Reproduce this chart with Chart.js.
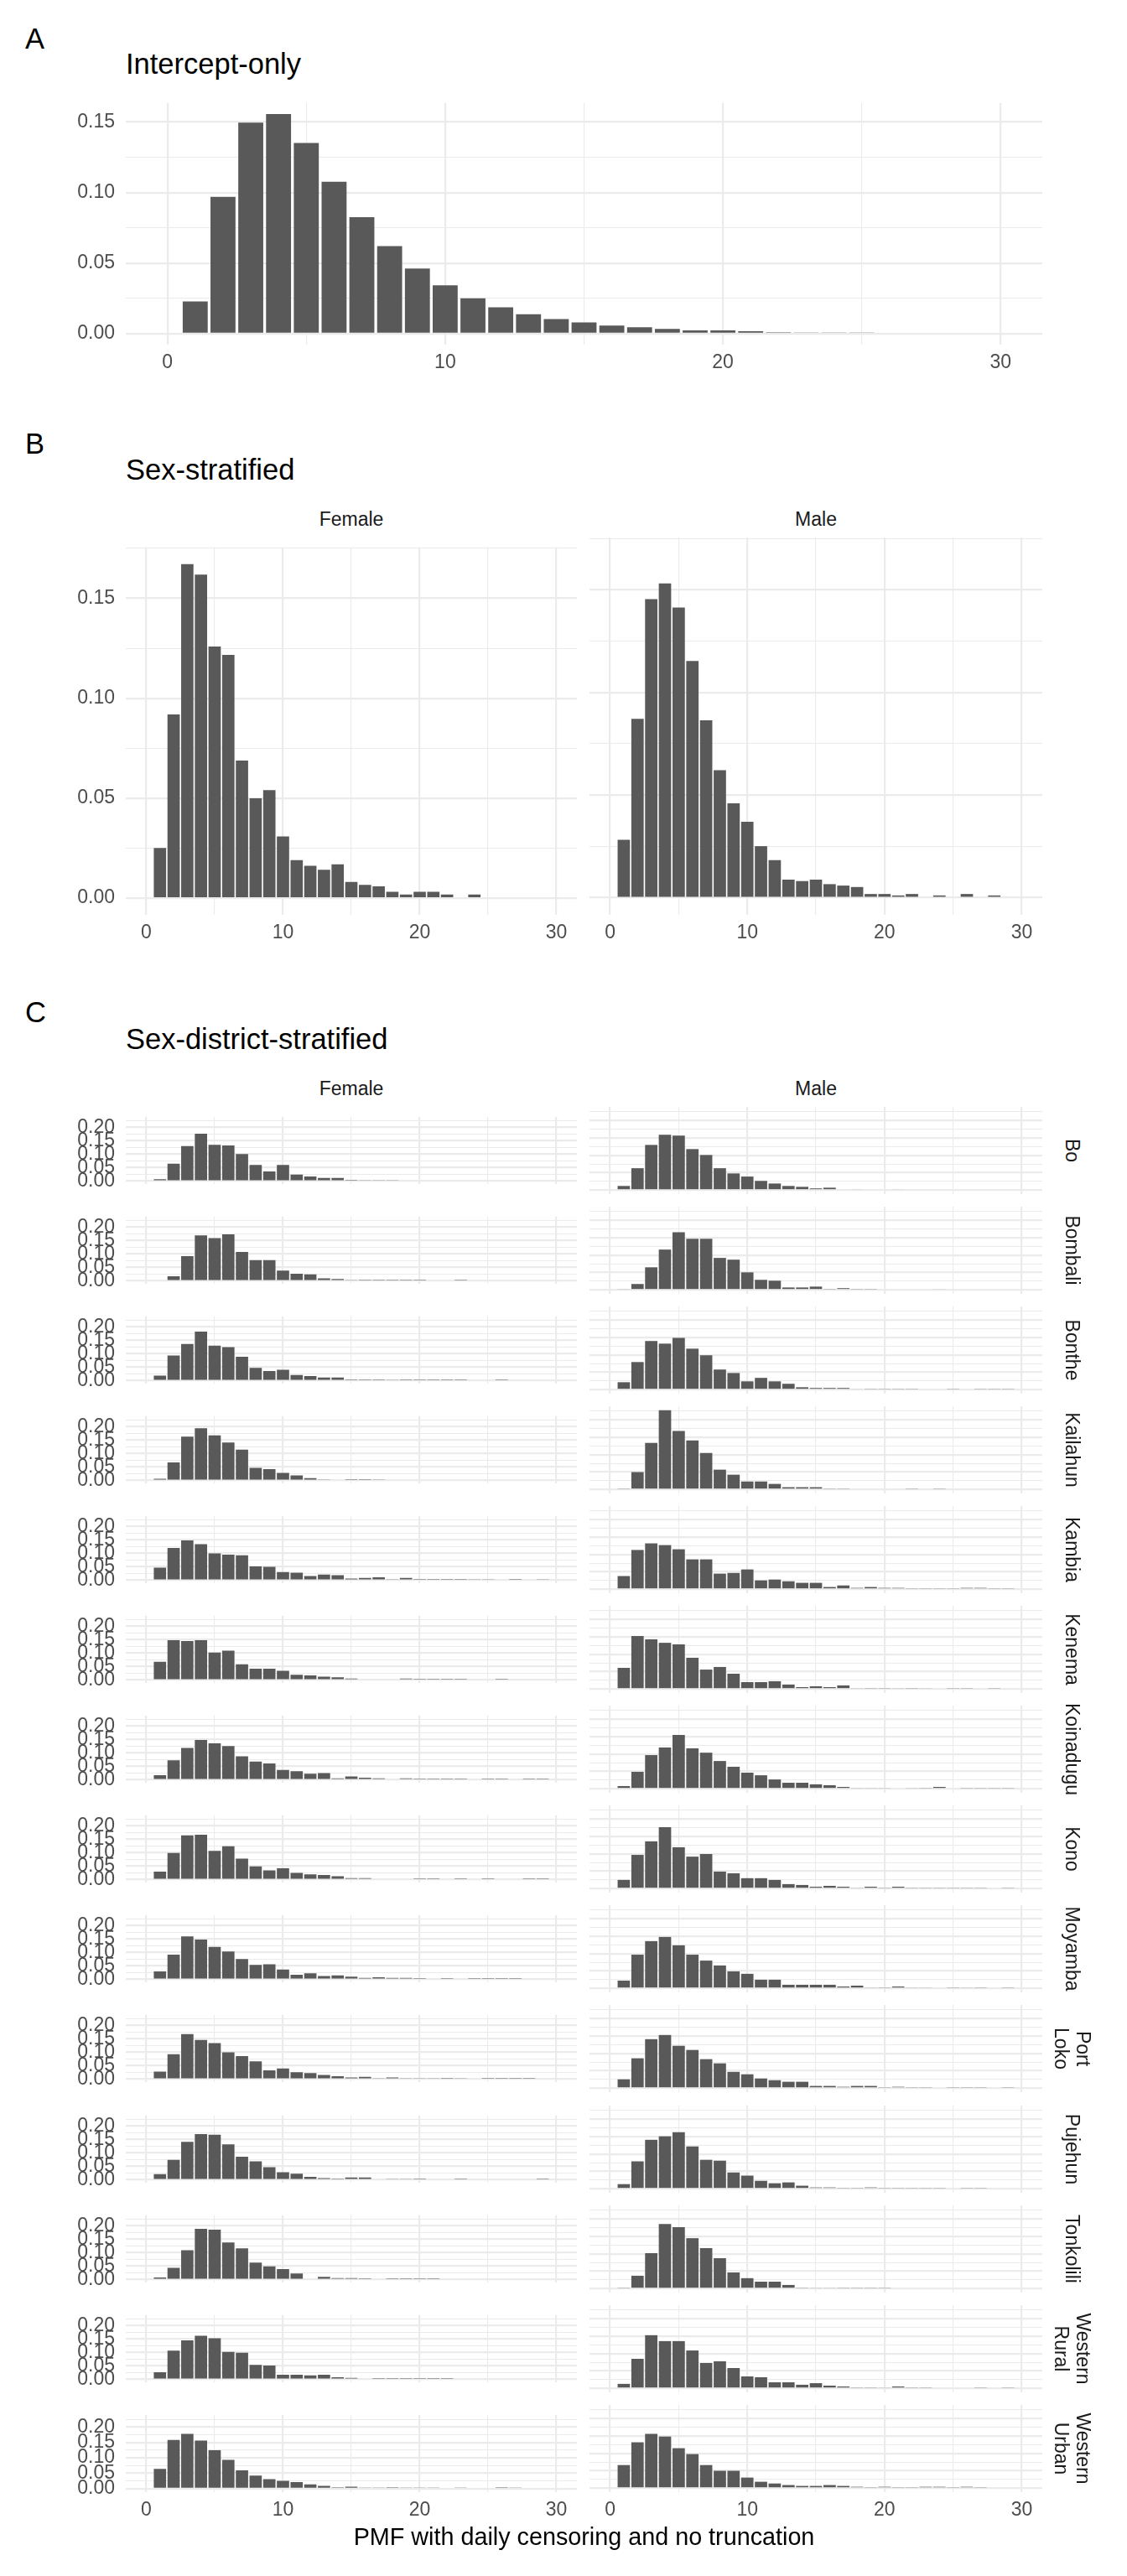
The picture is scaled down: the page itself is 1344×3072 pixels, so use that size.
<!DOCTYPE html>
<html>
<head>
<meta charset="utf-8">
<script src="https://cdn.jsdelivr.net/npm/chart.js@4.4.1/dist/chart.umd.min.js"></script>
<style>
  body { margin: 0; background: #fff; }
  #page { position: relative; width: 1344px; height: 3072px; overflow: hidden; font-family: "Liberation Sans", Arial, sans-serif; }
  canvas { position: absolute; }
  .txt { position: absolute; white-space: nowrap; line-height: 1; }
  .strip { position: absolute; white-space: nowrap; text-align: center; font-size: 23px; line-height: 26px; color: #1A1A1A; transform: translate(-50%, -50%) rotate(90deg); }
</style>
</head>
<body>
<div id="page"></div>
<script>
// delay in days (x)
const days = [1,2,3,4,5,6,7,8,9,10,11,12,13,14,15,16,17,18,19,20,21,22,23,24,25,26,27,28,29,30];
const xLimits = [0, 30];

// A: intercept-only
const interceptOnly = [0.0228,0.0969,0.1496,0.1557,0.1352,0.1077,0.0826,0.0621,0.0461,0.0343,0.0251,0.0187,0.0137,0.0103,0.0080,0.0057,0.0046,0.0034,0.0023,0.0023,0.0017,0.0010,0.0005,0.0005,0.0005,0,0,0,0,0];

// B: sex-stratified
const sexFemale = [0.0251,0.0919,0.1671,0.1618,0.1259,0.1217,0.0688,0.0499,0.0540,0.0309,0.0190,0.0162,0.0142,0.0169,0.0081,0.0066,0.0059,0.0032,0.0018,0.0032,0.0032,0.0018,0,0.0018,0,0,0,0,0,0];
const sexMale = [0.0282,0.0871,0.1454,0.1531,0.1413,0.1153,0.0864,0.0621,0.0460,0.0370,0.0251,0.0183,0.0088,0.0081,0.0088,0.0066,0.0059,0.0052,0.0018,0.0018,0.0011,0.0018,0,0.0011,0,0.0018,0,0.0011,0,0];

// C: sex-district-stratified
const districts = ['Bo','Bombali','Bonthe','Kailahun','Kambia','Kenema','Koinadugu','Kono','Moyamba','Port Loko','Pujehun','Tonkolili','Western Rural','Western Urban'];
const sexes = ['Female', 'Male'];

const boFemale = [0.007,0.065,0.130,0.176,0.135,0.1325,0.101,0.060,0.036,0.060,0.024,0.017,0.012,0.012,0.005,0.0025,0.0025,0.0025,0,0,0,0,0,0,0,0,0,0,0,0];
const boMale = [0.012,0.063,0.130,0.159,0.157,0.118,0.101,0.063,0.048,0.039,0.0265,0.019,0.012,0.0095,0.005,0.007,0,0.0025,0,0,0.0025,0,0,0,0,0,0,0,0,0];
const bombaliFemale = [0,0.017,0.092,0.169,0.159,0.1735,0.108,0.077,0.077,0.0385,0.0265,0.024,0.0095,0.007,0.0025,0.002,0.005,0.002,0.002,0.002,0,0,0.002,0,0,0,0,0,0,0];
const bombaliMale = [0.003,0.017,0.065,0.116,0.166,0.147,0.147,0.092,0.087,0.0505,0.029,0.0265,0.007,0.007,0.0095,0.002,0.005,0.002,0.002,0,0,0,0,0.0025,0,0,0,0,0,0];
const bontheFemale = [0.019,0.094,0.137,0.183,0.130,0.125,0.089,0.048,0.036,0.041,0.0215,0.017,0.012,0.012,0.005,0.005,0.002,0.0025,0.002,0.002,0.002,0.002,0.002,0,0,0.002,0,0,0,0];
const bontheMale = [0.0215,0.0795,0.140,0.1325,0.149,0.118,0.099,0.058,0.048,0.024,0.034,0.024,0.017,0.007,0.005,0.005,0.005,0.0025,0.002,0.002,0.002,0.002,0,0,0.002,0,0.002,0.002,0.002,0];
const kailahunFemale = [0.0065,0.067,0.163,0.194,0.168,0.141,0.115,0.047,0.0425,0.028,0.0185,0.009,0.004,0,0.002,0.002,0.004,0,0,0,0,0,0,0,0,0,0,0,0,0];
const kailahunMale = [0.002,0.050,0.134,0.228,0.168,0.141,0.105,0.057,0.0425,0.023,0.023,0.016,0.0065,0.0065,0.0065,0.002,0.002,0,0,0,0,0.002,0,0.002,0,0,0,0,0,0];
const kambiaFemale = [0.047,0.120,0.1485,0.134,0.100,0.0955,0.093,0.052,0.050,0.0305,0.028,0.016,0.021,0.0185,0.0065,0.009,0.011,0.004,0.009,0.002,0.002,0.002,0.002,0.004,0.004,0,0.002,0,0.004,0];
const kambiaMale = [0.038,0.113,0.132,0.127,0.115,0.086,0.086,0.045,0.047,0.057,0.0255,0.028,0.023,0.0185,0.0185,0.0065,0.011,0.004,0.0065,0.004,0.004,0.002,0.002,0.002,0.002,0.004,0.004,0.002,0.002,0];
const kenemaFemale = [0.068,0.148,0.145,0.148,0.102,0.109,0.0585,0.042,0.042,0.0345,0.020,0.0175,0.013,0.0105,0.0055,0.003,0.003,0.003,0.0055,0.002,0.002,0.002,0.002,0.003,0.003,0.002,0,0,0,0];
const kenemaMale = [0.061,0.1525,0.143,0.133,0.1285,0.090,0.056,0.0635,0.044,0.020,0.020,0.0225,0.013,0.0055,0.008,0.0055,0.0105,0.003,0.002,0.002,0.003,0.002,0.003,0,0.002,0.002,0,0.002,0,0];
const koinaduguFemale = [0.0175,0.073,0.119,0.148,0.136,0.126,0.0875,0.068,0.061,0.037,0.032,0.0225,0.025,0.0055,0.013,0.008,0.0055,0.003,0.0055,0.002,0.002,0.002,0.002,0,0.002,0.002,0,0.002,0.002,0];
const koinaduguMale = [0.008,0.049,0.097,0.119,0.155,0.1165,0.104,0.080,0.0635,0.0465,0.039,0.027,0.0175,0.0175,0.013,0.0105,0.0055,0.003,0.003,0.003,0,0.003,0.002,0.0055,0,0.002,0.002,0.002,0.002,0];
const konoFemale = [0.030,0.0995,0.165,0.167,0.107,0.124,0.078,0.049,0.0345,0.042,0.025,0.020,0.0175,0.013,0.0055,0.0055,0.003,0,0.003,0.002,0.002,0,0.002,0,0.002,0,0,0.002,0.002,0];
const konoMale = [0.025,0.097,0.136,0.177,0.119,0.092,0.0995,0.049,0.044,0.030,0.030,0.025,0.013,0.0105,0.0055,0.008,0.0055,0.003,0.0055,0.002,0.0055,0.002,0.002,0.002,0.002,0.002,0.002,0,0.002,0];
const moyambaFemale = [0.030,0.092,0.160,0.148,0.121,0.104,0.0755,0.054,0.056,0.037,0.0175,0.0225,0.013,0.015,0.0105,0.0055,0.008,0.0055,0.0055,0.002,0.003,0.002,0.003,0.002,0.002,0.002,0.002,0,0,0];
const moyambaMale = [0.0225,0.097,0.136,0.148,0.124,0.097,0.080,0.066,0.049,0.042,0.025,0.025,0.0105,0.0105,0.0105,0.0105,0.0055,0.008,0.003,0.002,0.0055,0.003,0.003,0,0.002,0.003,0.002,0,0.002,0];
const portLokoFemale = [0.028,0.093,0.168,0.146,0.134,0.100,0.086,0.0665,0.033,0.040,0.0255,0.023,0.016,0.011,0.0065,0.009,0.004,0.0065,0.004,0.004,0.004,0.002,0.004,0,0.002,0.002,0.002,0.002,0,0];
const portLokoMale = [0.0255,0.086,0.141,0.153,0.122,0.110,0.0835,0.0715,0.047,0.040,0.028,0.023,0.0185,0.0185,0.0065,0.0065,0.004,0.0065,0.0065,0.002,0.004,0.002,0.002,0,0.002,0.002,0.002,0,0.002,0];
const pujehunFemale = [0.021,0.074,0.141,0.170,0.168,0.132,0.086,0.069,0.047,0.028,0.023,0.011,0.0065,0.002,0.009,0.009,0,0.004,0.004,0.002,0,0,0.002,0,0,0,0,0,0.002,0];
const pujehunMale = [0.0135,0.079,0.141,0.151,0.163,0.122,0.0835,0.081,0.047,0.038,0.023,0.016,0.0185,0.009,0.004,0.004,0.002,0.002,0.004,0.002,0.002,0.002,0.002,0.002,0,0.002,0.002,0,0,0];
const tonkoliliFemale = [0.008,0.044,0.109,0.189,0.186,0.138,0.1165,0.0635,0.049,0.039,0.0225,0.003,0.0105,0.0055,0.0055,0.002,0.003,0.002,0.002,0.002,0.002,0,0,0,0,0,0,0,0,0];
const tonkoliliMale = [0.002,0.037,0.102,0.186,0.177,0.145,0.1165,0.0875,0.0465,0.030,0.020,0.020,0.0105,0.002,0.003,0.003,0.002,0.002,0.002,0.002,0,0,0,0,0,0,0,0,0,0];
const westernRuralFemale = [0.027,0.107,0.145,0.162,0.153,0.102,0.0995,0.054,0.0515,0.0175,0.0175,0.015,0.0175,0.008,0.0055,0.003,0.002,0.002,0.002,0.002,0.002,0.002,0,0,0,0,0,0,0,0];
const westernRuralMale = [0.013,0.085,0.153,0.136,0.136,0.109,0.073,0.078,0.0585,0.0345,0.032,0.0175,0.0175,0.0105,0.015,0.008,0.0055,0.002,0.002,0.003,0.0055,0.002,0.002,0,0,0,0.002,0,0.002,0];
const westernUrbanFemale = [0.064,0.158,0.1775,0.156,0.1245,0.093,0.0595,0.0425,0.0305,0.0255,0.021,0.0135,0.009,0.004,0.0065,0.002,0.002,0.004,0.002,0.002,0.002,0,0.002,0,0,0.004,0.002,0,0,0];
const westernUrbanMale = [0.0665,0.132,0.156,0.1485,0.115,0.098,0.0665,0.050,0.050,0.0305,0.0185,0.0135,0.009,0.0065,0.0065,0.009,0.0065,0.004,0.002,0.004,0.002,0.002,0.004,0.004,0.002,0.004,0.002,0,0,0];

const femaleByDistrict = [boFemale, bombaliFemale, bontheFemale, kailahunFemale, kambiaFemale, kenemaFemale, koinaduguFemale, konoFemale, moyambaFemale, portLokoFemale, pujehunFemale, tonkoliliFemale, westernRuralFemale, westernUrbanFemale];
const maleByDistrict = [boMale, bombaliMale, bontheMale, kailahunMale, kambiaMale, kenemaMale, koinaduguMale, konoMale, moyambaMale, portLokoMale, pujehunMale, tonkoliliMale, westernRuralMale, westernUrbanMale];

const page = document.getElementById('page');
Chart.defaults.font.family = '"Liberation Sans", Arial, sans-serif';
Chart.defaults.font.size = 23;
Chart.defaults.color = '#4D4D4D';

// ggplot style 5% expansion
function expand(lo, hi)
{
    let d = (hi - lo) * 0.05;
    return [lo - d, hi + d];
}
function maxOf(list)
{
    let m = 0;
    for (let i = 0; i < list.length; i++) {
        m = Math.max(m, Math.max.apply(null, list[i]));
    }
    return m;
}

function addText(str, x, baseline, size, color, center)
{
    let d = document.createElement('div');
    d.className = 'txt';
    d.textContent = str;
    d.style.fontSize = size + 'px';
    d.style.color = color;
    d.style.top = (baseline - 0.8464 * size) + 'px';
    d.style.left = x + 'px';
    if (center) d.style.transform = 'translateX(-50%)';
    page.appendChild(d);
}

function addStripRight(name, cx, cy)
{
    let d = document.createElement('div');
    d.className = 'strip';
    d.innerHTML = name.split(' ').join('<br>');
    d.style.left = cx + 'px';
    d.style.top = cy + 'px';
    page.appendChild(d);
}

const xRange = expand(xLimits[0], xLimits[1]);

// one facet = one chart; px/py/pw/ph is the plot panel
function makePanel(values, px, py, pw, ph, yRange, showY, showX)
{
    const padT = 15, padB = 15;
    const xh = showX ? 45 : 0;
    const yw = showY ? px : 0;
    let canvas = document.createElement('canvas');
    canvas.width = yw + pw;
    canvas.height = padT + ph + xh + padB;
    canvas.style.left = (px - yw) + 'px';
    canvas.style.top = (py - padT) + 'px';
    page.appendChild(canvas);

    new Chart(canvas.getContext('2d'), {
        type: 'bar',
        data: {
            datasets: [{
                data: days.map((d, i) => ({ x: d, y: values[i] })),
                backgroundColor: '#595959',
                borderWidth: 0,
                barPercentage: 0.9,
                categoryPercentage: 1
            }]
        },
        options: {
            responsive: false,
            animation: false,
            devicePixelRatio: 1,
            layout: { autoPadding: false, padding: { top: padT, bottom: padB, left: 0, right: 0 } },
            plugins: { legend: { display: false }, tooltip: { enabled: false } },
            scales: {
                x: {
                    type: 'linear',
                    min: xRange[0],
                    max: xRange[1],
                    offset: false,
                    grid: {
                        offset: false,
                        color: '#EBEBEB',
                        drawTicks: false,
                        lineWidth: c => (c.tick && Math.round(c.tick.value) % 10 === 0) ? 2.2 : 1.1
                    },
                    border: { display: false },
                    ticks: {
                        display: showX,
                        stepSize: 5,
                        includeBounds: false,
                        autoSkip: false,
                        maxRotation: 0,
                        maxTicksLimit: 100,
                        padding: 8,
                        callback: v => Math.round(v) % 10 === 0 ? String(v) : ''
                    },
                    afterFit: s => { s.height = xh; }
                },
                y: {
                    min: yRange[0],
                    max: yRange[1],
                    grid: {
                        color: '#EBEBEB',
                        drawTicks: false,
                        lineWidth: c => (c.tick && Math.round(c.tick.value * 1000) % 50 === 0) ? 2.2 : 1.1
                    },
                    border: { display: false },
                    ticks: {
                        display: showY,
                        stepSize: 0.025,
                        includeBounds: false,
                        autoSkip: false,
                        maxTicksLimit: 100,
                        padding: 13,
                        callback: v => Math.round(v * 1000) % 50 === 0 ? v.toFixed(2) : ''
                    },
                    afterFit: s => { s.width = yw; }
                }
            }
        }
    });
}

// ---- A ----
addText('A', 30, 58, 34.5, '#000', false);
addText('Intercept-only', 150, 88, 34.5, '#000', false);
makePanel(interceptOnly, 150, 111, 1093, 300, expand(0, maxOf([interceptOnly])), true, true);

// ---- B ----
addText('B', 30, 541.5, 34.5, '#000', false);
addText('Sex-stratified', 150, 572.3, 34.5, '#000', false);
addText('Female', 419, 627, 23, '#1A1A1A', true);
addText('Male', 973, 627, 23, '#1A1A1A', true);
const yB = expand(0, maxOf([sexFemale, sexMale]));
makePanel(sexFemale, 150, 641, 538, 450, yB, true, true);
makePanel(sexMale, 703, 641, 540, 450, yB, false, true);

// ---- C ----
addText('C', 30, 1219.5, 34.5, '#000', false);
addText('Sex-district-stratified', 150, 1251.3, 34.5, '#000', false);
addText('Female', 419, 1306, 23, '#1A1A1A', true);
addText('Male', 973, 1306, 23, '#1A1A1A', true);
const yC = expand(0, Math.max(maxOf(femaleByDistrict), maxOf(maleByDistrict)));
for (let k = 0; k < districts.length; k++)
{
    let top = Math.round(1320 + 119.05 * k);
    let last = k === districts.length - 1;
    makePanel(femaleByDistrict[k], 150, top, 538, 104, yC, true, last);
    makePanel(maleByDistrict[k], 703, top, 540, 104, yC, false, last);
    addStripRight(districts[k], 1278.5, top + 52);
}

addText('PMF with daily censoring and no truncation', 696.5, 3035, 28.75, '#000', true);
</script>
</body>
</html>
